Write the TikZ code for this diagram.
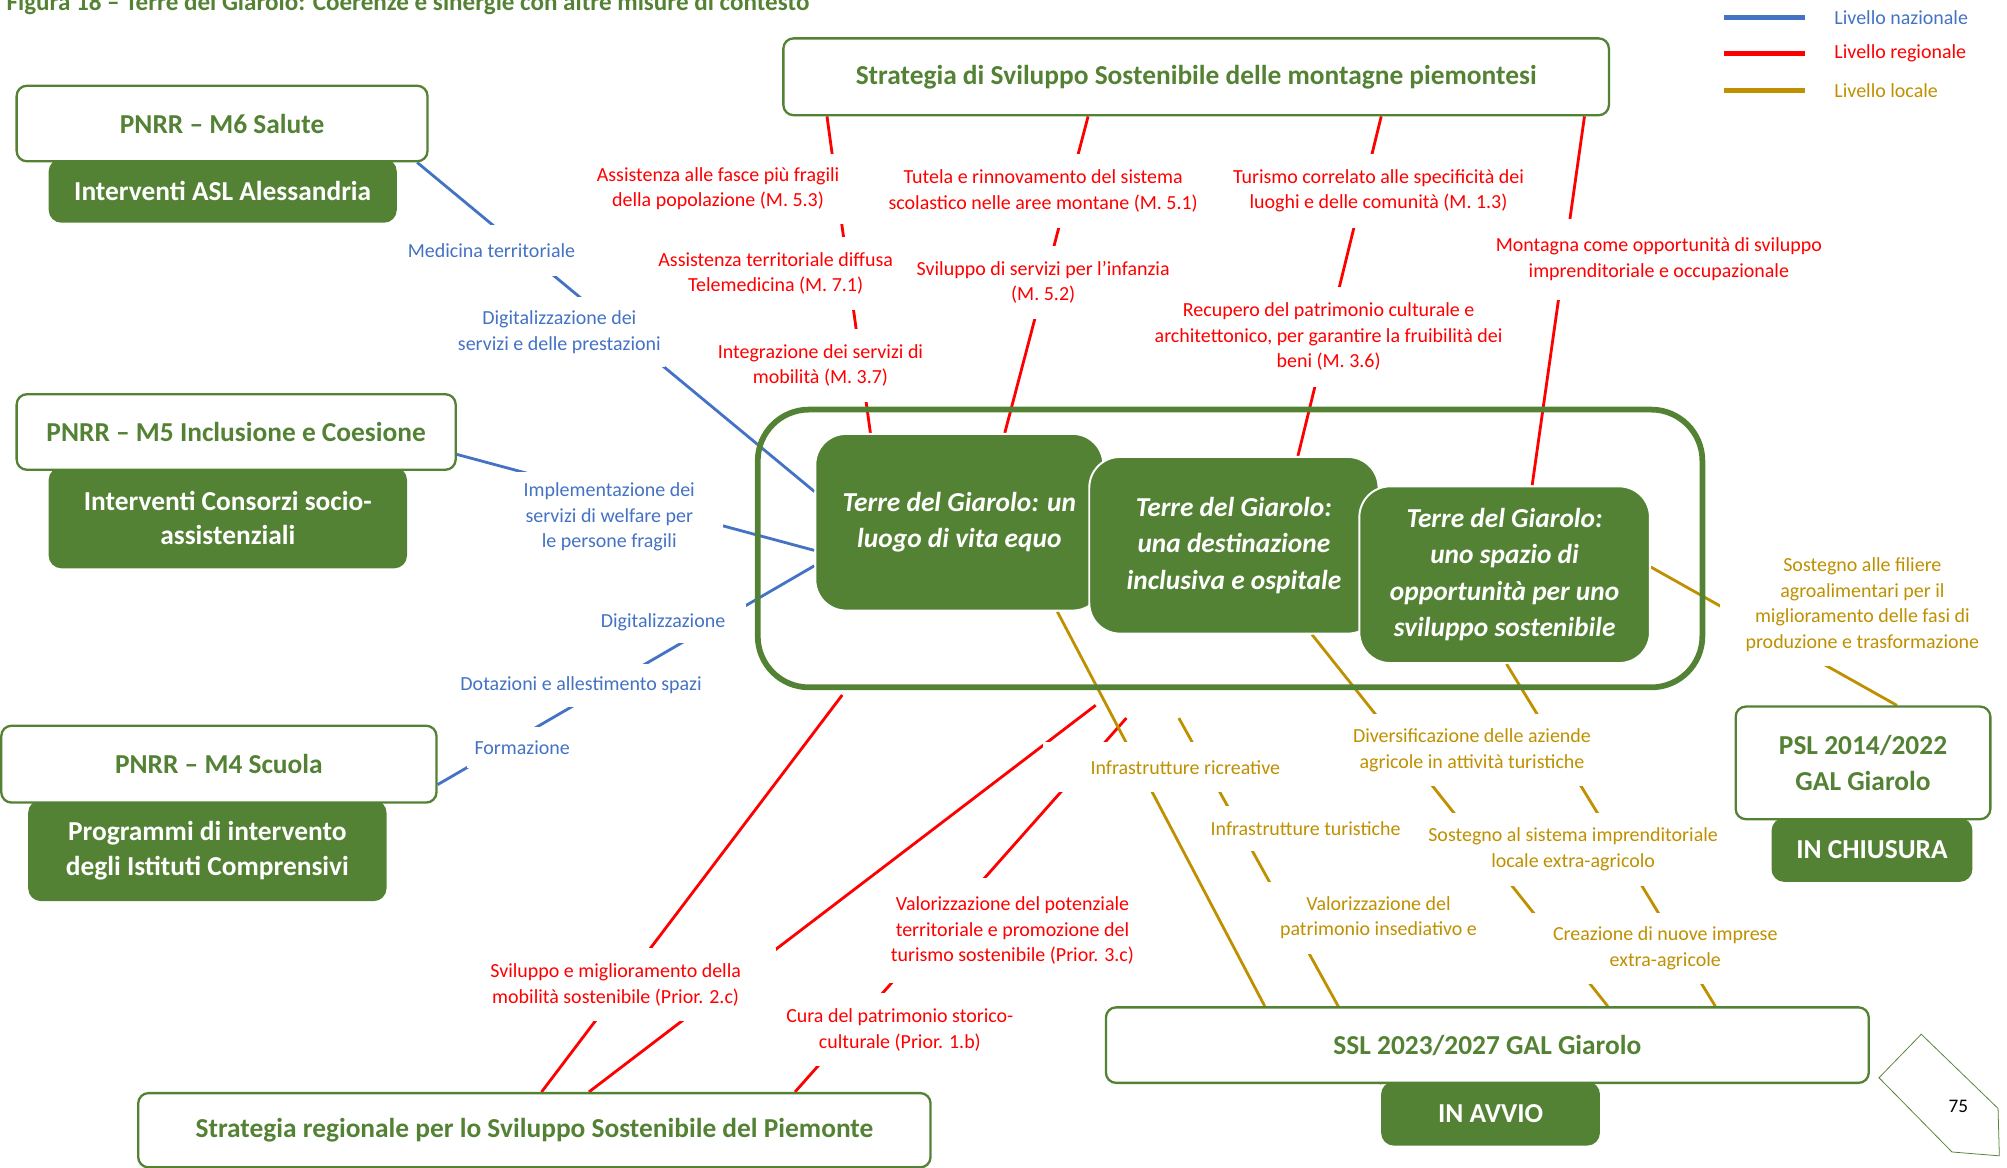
\documentclass[tikz,border=0pt]{standalone}
\usepackage{fontspec}
\setmainfont{Carlito}
\usetikzlibrary{calc}
\definecolor{giarolo}{HTML}{548235}
\definecolor{nazblue}{HTML}{4472C4}
\definecolor{regred}{HTML}{FF0000}
\definecolor{locgold}{HTML}{BF9000}
\pgfdeclarelayer{bg}
\pgfsetlayers{bg,main}

\begin{document}
\begin{tikzpicture}[x=1pt, y=-1pt,
	titlebox/.style={draw=giarolo, line width=1.8pt, fill=white, rounded corners=8pt, inner sep=0pt, text=giarolo, align=center, font=\fontsize{21.4}{28}\selectfont\bfseries},
	greenbox/.style={fill=giarolo, rounded corners=10pt, inner sep=0pt, text=white, align=center, font=\fontsize{21.4}{27}\selectfont\bfseries},
	goalbox/.style={fill=giarolo, draw=white, line width=1.5pt, rounded corners=24pt, inner sep=0pt, text=white, align=center, font=\fontsize{21.4}{28.5}\selectfont\bfseries\itshape},
	lbl/.style={fill=white, inner sep=0pt, align=center, font=\fontsize{15.6}{20}\selectfont},
	natlbl/.style={lbl, text=nazblue}, reglbl/.style={lbl, text=regred}, loclbl/.style={lbl, text=locgold},
	nat/.style={draw=nazblue, line width=2.2pt}, reg/.style={draw=regred, line width=2.2pt}, loc/.style={draw=locgold, line width=2.2pt}
	]
	\useasboundingbox (0,0) rectangle (1568,912.5);
	\node[anchor=base west, inner sep=0pt, text=giarolo, font=\fontsize{19.6}{23}\selectfont\bfseries] (fig) at (5,8.5) {Figura 18 – Terre del Giarolo: Coerenze e sinergie con altre misure di contesto};
	% legenda
	\foreach \col/\txt [count=\i] in {nazblue/Livello nazionale, regred/Livello regionale, locgold/Livello locale}{
		\node[anchor=west, inner sep=0pt, text=\col, font=\fontsize{15.6}{20}\selectfont] (leg\i) at (1433,-15+28.5*\i) {\txt};
		\draw[\col, line width=4pt] ($(leg\i.west)+(-86,0)$) -- ++(63,0);
	}
	% misure di contesto
	\node[greenbox, minimum width=272pt, minimum height=50pt] (asl) at (174,149) {Interventi ASL Alessandria};
	\node[titlebox, minimum width=321pt, minimum height=59pt] (m6) at (173.5,96.5) {PNRR – M6 Salute};
	\node[greenbox, minimum width=280pt, minimum height=79pt] (cons) at (178,404.5) {Interventi Consorzi socio-\\assistenziali};
	\node[titlebox, minimum width=343pt, minimum height=59pt] (m5) at (184.5,337.5) {PNRR – M5 Inclusione e Coesione};
	\node[greenbox, minimum width=280pt, minimum height=79pt] (prog) at (162,664.5) {Programmi di intervento\\degli Istituti Comprensivi};
	\node[titlebox, minimum width=340pt, minimum height=60pt] (m4) at (171,597) {PNRR – M4 Scuola};
	\node[titlebox, minimum width=645pt, minimum height=60pt] (mont) at (934.5,60) {Strategia di Sviluppo Sostenibile delle montagne piemontesi};
	\node[titlebox, minimum width=619pt, minimum height=58pt] (sreg) at (417.5,883) {Strategia regionale per lo Sviluppo Sostenibile del Piemonte};
	\node[greenbox, minimum width=171pt, minimum height=50pt] (avvio) at (1164.5,870) {IN AVVIO};
	\node[titlebox, minimum width=596pt, minimum height=59pt] (ssl) at (1162,816.5) {SSL 2023/2027 GAL Giarolo};
	\node[greenbox, minimum width=157pt, minimum height=50pt] (chius) at (1462.5,664) {IN CHIUSURA};
	\node[titlebox, minimum width=199pt, minimum height=88pt] (psl) at (1455.5,596) {PSL 2014/2022\\GAL Giarolo};
	% Terre del Giarolo
	\node[draw=giarolo, line width=4.5pt, rounded corners=40pt, minimum width=738pt, minimum height=217pt] (cont) at (961,428.5) {};
	\node[goalbox, minimum width=225pt, minimum height=138pt] (equo) at (749.5,408) {Terre del Giarolo: un\\luogo di vita equo};
	\node[goalbox, minimum width=226pt, minimum height=138pt] (osp) at (964,426) {Terre del Giarolo:\\una destinazione\\inclusiva e ospitale};
	\node[goalbox, minimum width=227pt, minimum height=138pt] (svil) at (1175.5,449) {Terre del Giarolo:\\uno spazio di\\opportunità per uno\\sviluppo sostenibile};
	\coordinate (r5end) at (658,543);
	\coordinate (r6end) at (856,551);
	\coordinate (r7end) at (880,561);
	\coordinate (g2start) at (921,561);
	% collegamenti
	\begin{pgfonlayer}{bg}
		\draw[nat] ($(m6.south east)+(-9,0)$) -- ($(equo.west)+(0,-24)$);
		\draw[nat] ($(m5.east)+(0,17.5)$) -- ($(equo.west)+(0,22)$);
		\draw[nat] ($(m4.east)+(0,16)$) -- ($(equo.west)+(0,34)$);
		\draw[reg] ($(mont.south west)+(35,0)$) -- ($(equo.north)+(-69.5,0)$);
		\draw[reg] ($(mont.south west)+(239,0)$) -- ($(equo.north)+(35.5,0)$);
		\draw[reg] ($(mont.south west)+(468,0)$) -- ($(osp.north)+(50,0)$);
		\draw[reg] ($(mont.south east)+(-20,0)$) -- ($(svil.north)+(21.5,0)$);
		\draw[reg] ($(sreg.north west)+(316,0)$) -- (r5end);
		\draw[reg] ($(sreg.north west)+(353,0)$) -- (r6end);
		\draw[reg] ($(sreg.north west)+(514,0)$) -- (r7end);
		\draw[loc] ($(equo.south)+(76.5,0)$) -- ($(ssl.north west)+(125,0)$);
		\draw[loc] (g2start) -- ($(ssl.south west)+(216,0)$);
		\draw[loc] ($(osp.south)+(61,0)$) -- ($(ssl.north west)+(393,0)$);
		\draw[loc] ($(svil.south)+(1.5,0)$) -- ($(ssl.north west)+(477,0)$);
		\draw[loc] ($(svil.east)+(0,-6)$) -- ($(psl.north)+(26.5,0)$);
	\end{pgfonlayer}
	% livello nazionale
	\node[natlbl, minimum width=135pt, minimum height=40pt] (medt) at (384,196) {Medicina territoriale};
	\node[natlbl, minimum width=165pt, minimum height=55pt] (digs) at (437,259.5) {Digitalizzazione dei\\servizi e delle prestazioni};
	\node[natlbl, minimum width=177pt, minimum height=71pt] (welf) at (476,404) {Implementazione dei\\servizi di welfare per\\le persone fragili};
	\node[natlbl, minimum width=130pt, minimum height=32pt] (digi) at (518,486) {Digitalizzazione};
	\node[natlbl, minimum width=192pt, minimum height=33pt] (dota) at (454,535.5) {Dotazioni e allestimento spazi};
	\node[natlbl, minimum width=87pt, minimum height=32pt] (form) at (408,584) {Formazione};
	% livello regionale
	\node[reglbl, minimum width=198pt, minimum height=55pt] (fragi) at (561,147.5) {Assistenza alle fasce più fragili\\della popolazione (M. 5.3)};
	\node[reglbl, minimum width=250pt, minimum height=58pt] (scuo) at (815,149) {Tutela e rinnovamento del sistema\\scolastico nelle aree montane (M. 5.1)};
	\node[reglbl, minimum width=239pt, minimum height=58pt] (turi) at (1077,149) {Turismo correlato alle specificità dei\\luoghi e delle comunità (M. 1.3)};
	\node[reglbl, minimum width=186pt, minimum height=57pt] (tele) at (606,213.5) {Assistenza territoriale diffusa\\Telemedicina (M. 7.1)};
	\node[reglbl, minimum width=206pt, minimum height=57pt] (infa) at (815,220.5) {Sviluppo di servizi per l’infanzia\\(M. 5.2)};
	\node[reglbl, minimum width=167pt, minimum height=57pt] (mobi) at (641,285.5) {Integrazione dei servizi di\\mobilità (M. 3.7)};
	\node[reglbl, minimum width=283pt, minimum height=78pt] (recu) at (1038,263) {Recupero del patrimonio culturale e\\architettonico, per garantire la fruibilità dei\\beni (M. 3.6)};
	\node[reglbl, minimum width=262pt, minimum height=63pt] (mont2) at (1296,202.5) {Montagna come opportunità di sviluppo\\imprenditoriale e occupazionale};
	\node[reglbl, minimum width=250pt, minimum height=57pt] (msos) at (481,769.5) {Sviluppo e miglioramento della\\mobilità sostenibile (Prior. 2.c)};
	\node[reglbl, minimum width=194pt, minimum height=82pt] (poten) at (791,727) {Valorizzazione del potenziale\\territoriale e promozione del\\turismo sostenibile (Prior. 3.c)};
	\node[reglbl, minimum width=183pt, minimum height=57pt] (cura) at (703,804.5) {Cura del patrimonio storico-\\culturale (Prior. 1.b)};
	% livello locale
	\node[loclbl, minimum width=222pt, minimum height=39pt] (ricr) at (926,599.5) {Infrastrutture ricreative};
	\node[loclbl, minimum width=153pt, minimum height=35pt] (tuinf) at (1020,647.5) {Infrastrutture turistiche};
	\node[loclbl, minimum width=175pt, minimum height=56pt] (inse) at (1077,717) {Valorizzazione del\\patrimonio insediativo e};
	\node[loclbl, minimum width=191pt, minimum height=56pt] (dive) at (1150,586) {Diversificazione delle aziende\\agricole in attività turistiche};
	\node[loclbl, minimum width=233pt, minimum height=57pt] (extr) at (1229,663.5) {Sostegno al sistema imprenditoriale\\locale extra-agricolo};
	\node[loclbl, minimum width=208pt, minimum height=56pt] (nuov) at (1301,741) {Creazione di nuove imprese\\extra-agricole};
	\node[loclbl, minimum width=222pt, minimum height=95pt] (fili) at (1455,472.5) {Sostegno alle filiere\\agroalimentari per il\\miglioramento delle fasi di\\produzione e trasformazione};
	% numero di pagina
	\draw[giarolo, line width=0.6pt] (1501,808) -- (1468,842) -- (1525,900) -- (1562,903) -- (1561,866) -- cycle;
	\node[font=\fontsize{15}{18}\selectfont] (pag) at (1530,864) {75};
\end{tikzpicture}
\end{document}
